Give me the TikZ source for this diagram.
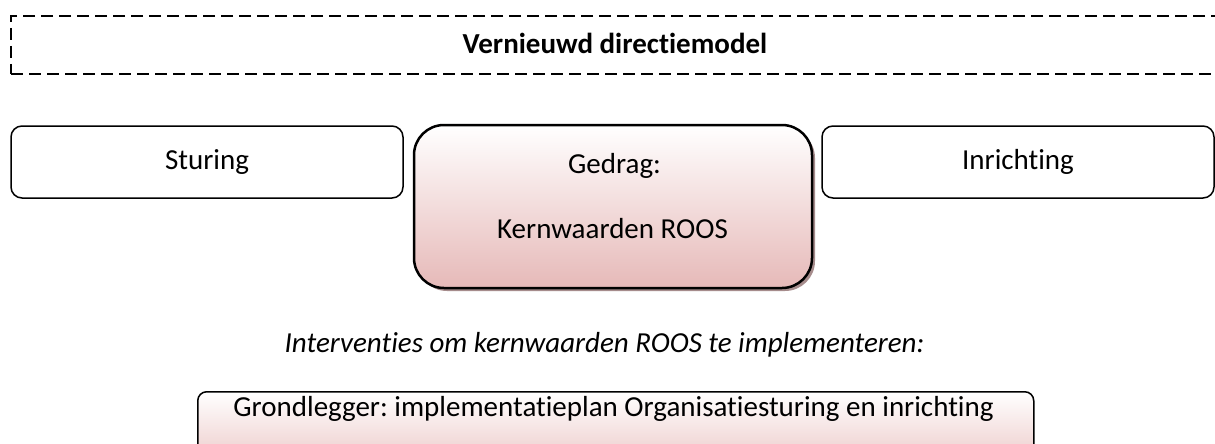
\documentclass[tikz,border=0pt]{standalone}
\usepackage{fontspec}
\setmainfont[Ligatures={NoCommon}]{Carlito}
\frenchspacing
\usetikzlibrary{shadows}
\definecolor{pinkbot}{HTML}{E6B9B8}
\definecolor{pinklow}{HTML}{EDCCCB}
\definecolor{shadowc}{HTML}{A68C8C}
\tikzset{
  txt/.style={font=\fontsize{29}{35}\selectfont, inner sep=0pt},
  sidebox/.style={txt, draw, line width=1.5pt, rounded corners=11pt,
    minimum width=392pt, minimum height=72pt},
  corebox/.style={draw, line width=2.5pt, rounded corners=30pt,
    minimum width=398pt, minimum height=163pt, inner sep=0pt,
    top color=white, bottom color=pinkbot,
    drop shadow={shadow xshift=3pt, shadow yshift=-3pt, fill=shadowc, opacity=1}},
  basebox/.style={draw, line width=1.5pt, rounded corners=9pt,
    minimum width=836pt, minimum height=70pt, inner sep=0pt,
    top color=white, bottom color=pinklow},
  framebox/.style={draw, dash pattern=on 12pt off 6pt, line width=2pt,
    minimum width=1207pt, minimum height=58pt, inner sep=0pt},
  titletxt/.style={font=\fontsize{29}{35}\selectfont\bfseries, inner sep=0pt},
  itxt/.style={txt, font=\fontsize{29}{35}\selectfont\itshape}
}
\begin{document}
\begin{tikzpicture}[x=1pt,y=-1pt]
\useasboundingbox (0,0) rectangle (1215,444);
\clip (0,0) rectangle (1215,444);
\fill[white] (0,0) rectangle (1215,444);
% header frame
\node[framebox, anchor=north west] (frame) at (10,15) {};
\node[titletxt, anchor=base] (title) at (615,53) {Vernieuwd directiemodel};
% three boxes
\node[sidebox] (sturing) at (207,162) {Sturing};
\node[corebox] (gedrag) at (613,206.5) {};
\node[txt, anchor=base] (gedragtxt) at (614.5,173) {Gedrag:};
\node[txt, anchor=base] (kern) at (612.5,238) {Kernwaarden ROOS};
\node[sidebox] (inrichting) at (1018,162) {Inrichting};
% interventions
\node[itxt, anchor=base] (interv) at (604.5,352) {Interventies om kernwaarden ROOS te implementeren:};
\node[basebox, anchor=north west] (grond) at (197,391) {};
\node[txt, anchor=base] (grondtxt) at (613.5,416.5) {Grondlegger: implementatieplan Organisatiesturing en inrichting};
\end{tikzpicture}
\end{document}
